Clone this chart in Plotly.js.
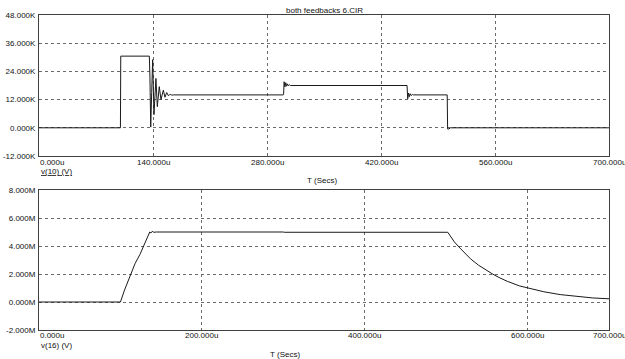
<!DOCTYPE html>
<html><head><meta charset="utf-8">
<script src="https://cdn.plot.ly/plotly-3.0.1.min.js"></script>
<style>html,body{margin:0;padding:0;background:#fff;}#chart{width:625px;height:359px;}</style>
</head><body><div id="chart"></div>
<script>
// ---- data ----
const chartTitle = "both feedbacks 6.CIR";
// v(10) in kV vs time in microseconds
const t10 = [0, 100, 100.4, 135.5, 136.2, 137.2, 138.4, 139.6, 141.2, 143.6, 145.3, 147.7, 149.8, 152.7, 154.7, 156.8, 159, 161, 163, 165,
             300, 300.4, 301, 302, 303, 304, 305, 306, 307.5, 309,
             452, 452.8, 453.8, 454.8, 455.8, 457, 458.5, 460,
             501.3, 501.8, 503.5, 505, 700];
const v10 = [0, 0, 30.5, 30.5, 22, 0.3, 15, 29, 5.6, 21, 9, 17.5, 12, 16, 13, 15, 13.6, 14.3, 13.9, 14,
             14, 14.2, 19.6, 17.4, 19.2, 17.7, 18.7, 17.9, 18.3, 18,
             18, 12.3, 14.8, 13.2, 14.5, 13.7, 14.2, 14,
             14, -0.5, -0.5, 0, 0];
// v(16) in MV vs time in microseconds
const t16 = [0, 100, 105, 112, 118, 124, 130, 134, 136, 137.5, 139, 141, 144, 300, 301, 502, 506, 510, 517, 524, 530, 540, 550, 557, 565, 575, 590, 600, 610, 620, 640, 660, 680, 700];
const v16 = [0, 0, 0.85, 1.95, 2.75, 3.4, 4.15, 4.65, 5.0, 4.93, 5.05, 4.98, 5.0, 5.0, 4.98, 4.98, 4.6, 4.3, 3.85, 3.45, 3.08, 2.62, 2.23, 2.0, 1.75, 1.48, 1.15, 1.0, 0.86, 0.73, 0.53, 0.39, 0.29, 0.23];

const xTop = [0, 140, 280, 420, 560, 700];
const xTopLbl = ["0.000u", "140.000u", "280.000u", "420.000u", "560.000u", "700.000u"];
const yTop = [-12, 0, 12, 24, 36, 48];
const yTopLbl = ["-12.000K", "0.000K", "12.000K", "24.000K", "36.000K", "48.000K"];
const xBot = [0, 200, 400, 600, 700];
const xBotLbl = ["0.000u", "200.000u", "400.000u", "600.000u", "700.000u"];
const yBot = [-2, 0, 2, 4, 6, 8];
const yBotLbl = ["-2.000M", "0.000M", "2.000M", "4.000M", "6.000M", "8.000M"];
const traceTop = "v(10) (V)";
const traceBot = "v(16) (V)";
const xTitle = "T (Secs)";

// ---- layout ----
const W = 625, H = 359;
const font = {family: "Liberation Sans, Arial, sans-serif", size: 8, color: "#111"};
const px = v => v / W, py = v => 1 - v / H;
const xd = [px(39), px(609)];
const lineCol = "#404040", gridCol = "#6a6a6a";

function yax(vals, lbls, dom) {
  return {domain: dom, range: [vals[0], vals[vals.length-1]], tickvals: vals, ticktext: lbls,
    showgrid: true, gridcolor: gridCol, griddash: "dot", gridwidth: 1, zeroline: false,
    showline: true, mirror: true, linecolor: lineCol, linewidth: 1, ticks: "", ticklabelstandoff: 1,
    tickfont: font, fixedrange: true};
}
function xax(vals, dom, anchor) {
  return {domain: dom, anchor: anchor, range: [0, 700], tickvals: vals, showticklabels: false,
    showgrid: true, gridcolor: gridCol, griddash: "dot", gridwidth: 1, zeroline: false,
    showline: true, mirror: true, linecolor: lineCol, linewidth: 1, ticks: "", fixedrange: true};
}

const ann = [];
function addXLabels(vals, lbls, xa, ypix) {
  vals.forEach((v, i) => {
    if (i === 0) {
      ann.push({xref: "paper", yref: "paper", x: px(39), y: py(ypix), text: lbls[i], showarrow: false,
        xanchor: "left", yanchor: "middle", font: font, borderpad: 0});
    } else {
      ann.push({xref: xa, yref: "paper", x: v, y: py(ypix), text: lbls[i], showarrow: false,
        xanchor: "center", yanchor: "middle", font: font, borderpad: 0});
    }
  });
}
addXLabels(xTop, xTopLbl, "x", 162);
addXLabels(xBot, xBotLbl, "x2", 335);
ann.push({xref: "paper", yref: "paper", x: px(40), y: py(171.5), text: "<u>" + traceTop + "</u>", showarrow: false, xanchor: "left", yanchor: "middle", font: font, borderpad: 0});
ann.push({xref: "paper", yref: "paper", x: px(40), y: py(345), text: traceBot, showarrow: false, xanchor: "left", yanchor: "middle", font: font, borderpad: 0});
ann.push({xref: "paper", yref: "paper", x: px(322), y: py(180.5), text: xTitle, showarrow: false, xanchor: "center", yanchor: "middle", font: font});
ann.push({xref: "paper", yref: "paper", x: px(285), y: py(354.5), text: xTitle, showarrow: false, xanchor: "center", yanchor: "middle", font: font});
ann.push({xref: "paper", yref: "paper", x: px(324), y: py(10.5), text: chartTitle, showarrow: false, xanchor: "center", yanchor: "middle", font: font});

const traces = [
  {x: t10, y: v10, xaxis: "x", yaxis: "y", type: "scatter", mode: "lines", line: {color: "#1a1a1a", width: 1}, hoverinfo: "skip"},
  {x: t16, y: v16, xaxis: "x2", yaxis: "y2", type: "scatter", mode: "lines", line: {color: "#1a1a1a", width: 1}, hoverinfo: "skip"}
];
const layout = {
  width: W, height: H, margin: {l: 0, r: 0, t: 0, b: 0}, showlegend: false,
  paper_bgcolor: "#fff", plot_bgcolor: "#fff", font: font,
  xaxis: xax(xTop, xd, "y"),
  yaxis: yax(yTop, yTopLbl, [py(156), py(15)]),
  xaxis2: xax(xBot, xd, "y2"),
  yaxis2: yax(yBot, yBotLbl, [py(330), py(190)]),
  annotations: ann
};
Plotly.newPlot("chart", traces, layout, {staticPlot: true, displayModeBar: false});
</script></body></html>
